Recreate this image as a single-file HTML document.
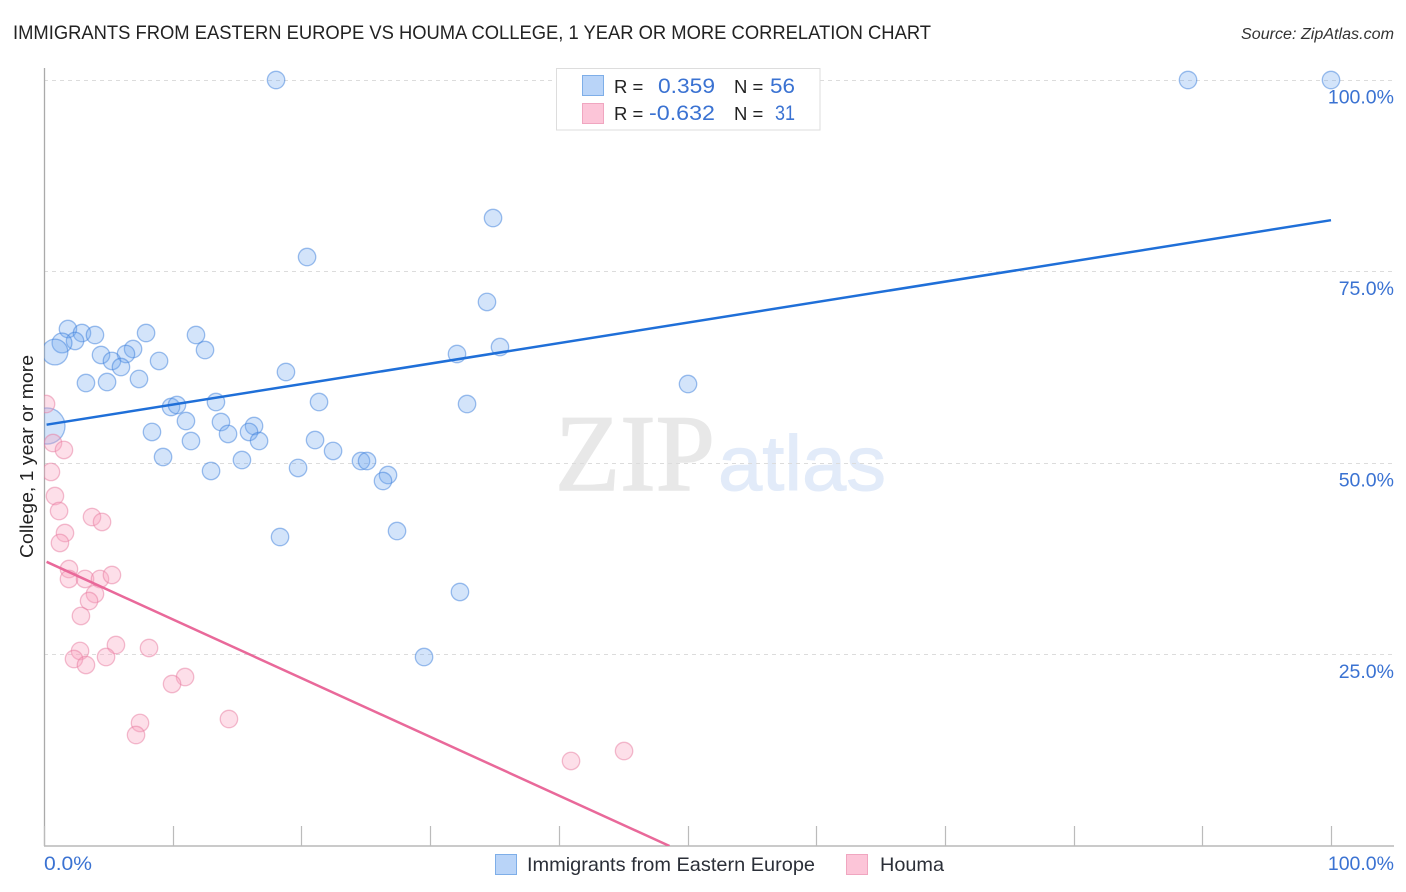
<!DOCTYPE html>
<html lang="en">
<head>
<meta charset="utf-8">
<title>Immigrants from Eastern Europe vs Houma College Correlation Chart</title>
<style>
html,body{margin:0;padding:0;background:#fff;width:1406px;height:892px;overflow:hidden}
svg{display:block;font-family:"Liberation Sans",sans-serif}
</style>
</head>
<body>
<svg id="chart" width="1406" height="892" viewBox="0 0 1406 892" xmlns="http://www.w3.org/2000/svg">
  <defs>
    <clipPath id="plot-clip"><rect x="44" y="60" width="1350" height="786"/></clipPath>
  </defs>
  <text x="13" y="39" font-size="19" fill="#222" textLength="918" lengthAdjust="spacingAndGlyphs">IMMIGRANTS FROM EASTERN EUROPE VS HOUMA COLLEGE, 1 YEAR OR MORE CORRELATION CHART</text>
  <text x="1241" y="39" font-size="15.5" font-style="italic" fill="#333" textLength="153" lengthAdjust="spacingAndGlyphs">Source: ZipAtlas.com</text>

  <g>
    <text x="555" y="490" font-family="'Liberation Serif',serif" font-size="109" fill="#e8e8e8" stroke="#e8e8e8" stroke-width="1.5" textLength="160" lengthAdjust="spacingAndGlyphs">ZIP</text>
    <text x="718" y="490" font-size="78" fill="#e2ebf9" stroke="#e2ebf9" stroke-width="1" textLength="168" lengthAdjust="spacingAndGlyphs">atlas</text>
  </g>

  <g id="grid"></g>
  <g id="axes"></g>
  <g id="y-labels"></g>
  <g id="x-labels"></g>
  <g id="blue-points" clip-path="url(#plot-clip)"></g>
  <g id="pink-points" clip-path="url(#plot-clip)"></g>
  <g id="trends" clip-path="url(#plot-clip)"></g>

  <text transform="translate(33,456.5) rotate(-90)" font-size="18.5" fill="#222" text-anchor="middle" textLength="203" lengthAdjust="spacingAndGlyphs">College, 1 year or more</text>

  <g>
    <rect x="556.5" y="68.5" width="263.5" height="61.5" fill="#fff" stroke="#ddd" stroke-width="1"/>
    <rect x="582.5" y="75.5" width="21" height="20" fill="#b9d4f8" stroke="#7eaee8" stroke-width="1"/>
    <rect x="582.5" y="103.5" width="21" height="20" fill="#fcc5d8" stroke="#f0a6c0" stroke-width="1"/>
    <text x="614" y="93" font-size="18.5" fill="#222">R =</text>
    <text x="658" y="93" font-size="21" fill="#3a72d2" textLength="57" lengthAdjust="spacingAndGlyphs">0.359</text>
    <text x="734" y="93" font-size="18.5" fill="#222">N =</text>
    <text x="770" y="93" font-size="21" fill="#3a72d2" textLength="25" lengthAdjust="spacingAndGlyphs">56</text>
    <text x="614" y="120" font-size="18.5" fill="#222">R =</text>
    <text x="649" y="120" font-size="21" fill="#3a72d2" textLength="66" lengthAdjust="spacingAndGlyphs">-0.632</text>
    <text x="734" y="120" font-size="18.5" fill="#222">N =</text>
    <text x="775" y="120" font-size="21" fill="#3a72d2" textLength="20" lengthAdjust="spacingAndGlyphs">31</text>
  </g>

  <g>
    <rect x="495.5" y="854.5" width="21" height="20" fill="#b9d4f8" stroke="#7eaee8" stroke-width="1"/>
    <text x="527" y="871" font-size="19.5" fill="#2b2f38" textLength="288" lengthAdjust="spacingAndGlyphs">Immigrants from Eastern Europe</text>
    <rect x="846.5" y="854.5" width="21" height="20" fill="#fcc5d8" stroke="#f0a6c0" stroke-width="1"/>
    <text x="880" y="871" font-size="19.5" fill="#2b2f38" textLength="64" lengthAdjust="spacingAndGlyphs">Houma</text>
  </g>
</svg>
<script>
const yTickValues = [100, 75, 50, 25];
const yTickLabels = ["100.0%", "75.0%", "50.0%", "25.0%"];
const xTickValues = [0, 10, 20, 30, 40, 50, 60, 70, 80, 90, 100];
const xEndValues = [0, 100];
const xEndLabels = ["0.0%", "100.0%"];

const blueX = [18.03,88.89,100,34.89,20.44,34.42,1.86,2.95,3.96,7.93,11.81,12.51,2.41,1.40,0.85,4.43,6.92,6.37,5.28,5.98,8.94,7.38,3.26,4.90,18.80,9.87,10.33,13.36,11.03,13.75,16.32,15.93,8.39,14.30,11.42,16.71,9.25,15.38,12.98,19.74,35.43,32.09,50.04,21.37,32.87,21.06,22.46,24.63,25.10,26.73,26.34,18.34,27.43,32.32,29.53,0.23];
const blueY = [100,100,100,81.98,76.89,71.02,67.49,66.97,66.71,66.97,66.71,64.75,65.93,65.67,64.49,64.10,64.88,64.23,63.32,62.53,63.32,60.97,60.44,60.57,61.88,57.31,57.57,57.96,55.48,55.35,54.83,54.05,54.05,53.79,52.87,52.87,50.78,50.39,48.96,49.35,65.14,64.23,60.31,57.96,57.70,53.00,51.57,50.26,50.26,48.43,47.65,40.34,41.12,33.16,24.67,54.83];
const blueWeight = [1,1,1,1,1,1,1,1,1,1,1,1,1,1.3,2.2,1,1,1,1,1,1,1,1,1,1,1,1,1,1,1,1,1,1,1,1,1,1,1,1,1,1,1,1,1,1,1,1,1,1,1,1,1,1,1,1,4.3];

const pinkX = [0.16,0.70,1.55,0.54,0.85,1.17,3.73,4.51,1.63,1.24,1.94,1.94,3.19,4.35,5.28,3.96,3.50,2.87,2.80,2.33,3.26,5.59,4.82,8.16,10.96,9.95,14.37,7.46,7.15,40.95,45.07];
const pinkY = [57.70,52.61,51.70,48.83,45.69,43.73,42.95,42.30,40.86,39.56,36.16,34.86,34.86,34.86,35.38,32.90,31.98,30.03,25.46,24.41,23.63,26.24,24.67,25.85,22.06,21.15,16.58,16.06,14.49,11.10,12.40];

const blueTrendX = [0.2, 100];
const blueTrendY = [55.0, 81.7];
const pinkTrendX = [0.2, 48.6];
const pinkTrendY = [37.1, 0];

const NS = "http://www.w3.org/2000/svg";
const xScale = v => 44 + v * 12.87;
const yScale = v => 846 - v * 7.66;
const BASE_RADIUS = 8.7;

function make(tag, attrs, parent, text) {
  const el = document.createElementNS(NS, tag);
  for (const k in attrs) el.setAttribute(k, attrs[k]);
  if (text !== undefined) el.textContent = text;
  parent.appendChild(el);
  return el;
}

const gridG = document.getElementById("grid");
const yLabG = document.getElementById("y-labels");
yTickValues.forEach((v, i) => {
  const y = Math.floor(yScale(v)) + 0.5;
  const line = make("line", {x1: 44, x2: 1394, y1: y, y2: y, stroke: "#dcdcdc", "stroke-width": 1, "stroke-dasharray": "4 4"}, gridG);
  
  
  const label = make("text", {x: 1394, y: yScale(v) + 23.5, "font-size": 19.5, fill: "#3a72d2", "text-anchor": "end"}, yLabG, yTickLabels[i]);
  
  
});

const axesG = document.getElementById("axes");
const yAxis = make("line", {x1: 44.5, x2: 44.5, y1: 68, y2: 846, stroke: "#aaa", "stroke-width": 1.3}, axesG);


const xAxis = make("line", {x1: 44, x2: 1394, y1: 846, y2: 846, stroke: "#aaa", "stroke-width": 1.3}, axesG);


xTickValues.forEach(v => {
  const x = Math.round(xScale(v)) + 0.5;
  const tick = make("line", {x1: x, x2: x, y1: 826, y2: 846, stroke: "#bbb", "stroke-width": 1.2}, axesG);
  
  
});

const xLabG = document.getElementById("x-labels");
xEndValues.forEach((v, i) => {
  const attrs = i === 0
    ? {x: xScale(v), y: 870, "font-size": 19.5, fill: "#3a72d2", textLength: 48, lengthAdjust: "spacingAndGlyphs"}
    : {x: 1394, y: 870, "font-size": 19.5, fill: "#3a72d2", "text-anchor": "end"};
  const label = make("text", attrs, xLabG, xEndLabels[i]);
  
  
});

const blueG = document.getElementById("blue-points");
blueX.forEach((v, i) => {
  const c = make("circle", {cx: xScale(v), cy: yScale(blueY[i]), r: BASE_RADIUS * Math.sqrt(blueWeight[i]), fill: "#6ea6f0", "fill-opacity": 0.3, stroke: "#3d7fdc", "stroke-opacity": 0.5, "stroke-width": 1.3}, blueG);
  
  
});

const pinkG = document.getElementById("pink-points");
pinkX.forEach((v, i) => {
  const c = make("circle", {cx: xScale(v), cy: yScale(pinkY[i]), r: BASE_RADIUS, fill: "#f8a4c0", "fill-opacity": 0.35, stroke: "#e87ba0", "stroke-opacity": 0.5, "stroke-width": 1.3}, pinkG);
  
  
});

const trendG = document.getElementById("trends");
const blueLine = make("line", {x1: xScale(blueTrendX[0]), y1: yScale(blueTrendY[0]), x2: xScale(blueTrendX[1]), y2: yScale(blueTrendY[1]), stroke: "#1f6fd8", "stroke-width": 2.5}, trendG);


const pinkLine = make("line", {x1: xScale(pinkTrendX[0]), y1: yScale(pinkTrendY[0]), x2: xScale(pinkTrendX[1]), y2: yScale(pinkTrendY[1]), stroke: "#e9699a", "stroke-width": 2.5}, trendG);


</script>
</body>
</html>
